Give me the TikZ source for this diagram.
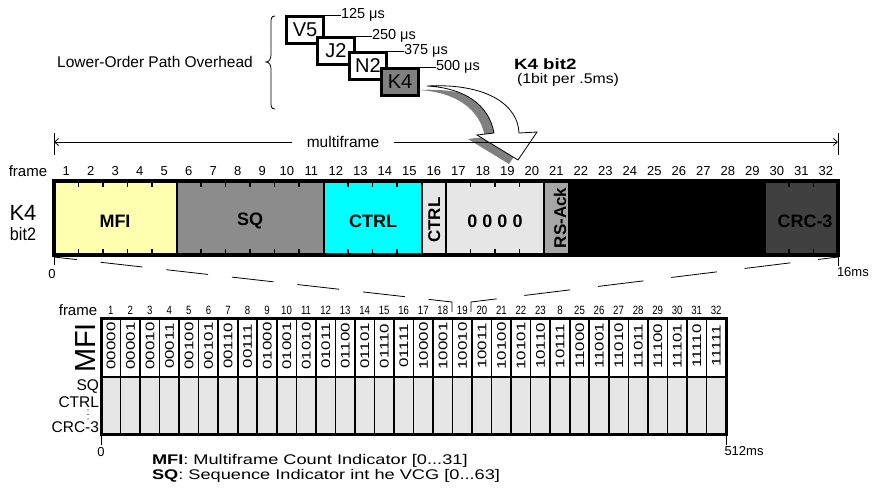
\documentclass[tikz,border=0pt]{standalone}
\usepackage{fontspec}
\setmainfont{Liberation Sans}
\usetikzlibrary{arrows.meta}
\definecolor{mfiyel}{HTML}{FFFFB0}
\definecolor{sqgray}{HTML}{8C8C8C}
\definecolor{ctrlcyan}{HTML}{00FFFF}
\definecolor{lgray}{HTML}{E6E6E6}
\definecolor{rsgray}{HTML}{A6A6A6}
\definecolor{crcgray}{HTML}{404040}
\definecolor{kgray}{HTML}{808080}
\newcommand{\fsz}[1]{\fontsize{#1}{#1}\selectfont}
\begin{document}
\begin{tikzpicture}[x=1pt,y=-1pt,
  txt/.style={inner sep=0pt, outer sep=0pt},
  seg/.style={rectangle, inner sep=0pt, outer sep=0pt, minimum height=74pt, anchor=north west},
  barlbl/.style={txt, font=\fsz{18}\bfseries},
  rotlbl/.style={txt, rotate=90, anchor=base, font=\fsz{17}\bfseries},
  ohbox/.style={draw, line width=3pt, fill=white, minimum width=37pt, minimum height=27pt, inner sep=0pt, anchor=north west, font=\fsz{20}},
  tick/.style={line width=1.2pt},
  hair/.style={line width=0.8pt},
  fnum/.style={txt, font=\fsz{13}},
  bnum/.style={txt, font=\fsz{12}},
  bits/.style={txt, rotate=90, anchor=base, font=\fsz{12.5}},
  us/.style={txt, anchor=west, font=\fsz{14.5}},
  dashA/.style={line width=0.8pt, dash pattern=on 42pt off 24pt, dash phase=19pt},
  dashB/.style={line width=0.8pt, dash pattern=on 46pt off 28pt, dash phase=26pt},
]
\useasboundingbox (0,0) rectangle (877,491);

% ---------- top: overhead bytes ----------
\node[txt, font=\fsz{15.5}] (loph) at (155,62) {Lower-Order Path Overhead};
\draw[hair] (275,16) .. controls (271,16) and (271,19) .. (271,23) -- (271,55)
  .. controls (271,59) and (269,62) .. (266,62)
  .. controls (269,62) and (271,65) .. (271,69) -- (271,102)
  .. controls (271,106) and (271,109) .. (275,109);

\node[ohbox] (v5) at (285,15) {V5};
\node[ohbox] (j2) at (316,36) {J2};
\node[ohbox] (n2) at (348,51) {N2};
\node[ohbox, fill=kgray] (k4) at (380,67) {K4};

\node[us] (t125) at (341,15) {125 μs};
\node[us] (t250) at (372,36) {250 μs};
\node[us] (t375) at (404,51) {375 μs};
\node[us] (t500) at (436,67) {500 μs};
\draw[hair] (v5.north east) -- (t125.west);
\draw[hair] (j2.north east) -- (t250.west);
\draw[hair] (n2.north east) -- (t375.west);
\draw[hair] (k4.north east) -- (t500.west);

\node[txt, anchor=west, font=\fsz{15}\bfseries] (k4b) at (514,64) {\scalebox{1.25}[1]{K4 bit2}};
\node[txt, anchor=west, font=\fsz{14}] (k4r) at (517,80) {\scalebox{1.13}[1]{(1bit per .5ms)}};

% ---------- curved arrow ----------
\fill[kgray, shift={(-9,4)}] (427,86) .. controls (487,83) and (518,105) .. (519,133)
  -- (537,132) -- (518,160) -- (477,135) -- (494,133)
  .. controls (489,105) and (465,88) .. (427,86) -- cycle;
\filldraw[fill=white, draw=black, line width=0.8pt, line join=miter] (427,86) .. controls (487,83) and (518,105) .. (519,133)
  -- (537,132) -- (518,160) -- (477,135) -- (494,133)
  .. controls (489,105) and (465,88) .. (427,86) -- cycle;

% ---------- multiframe dimension ----------
\node[txt, font=\fsz{15.5}, inner xsep=15pt] (mf) at (343,142) {multiframe};
\coordinate (mfl) at (54,142);
\coordinate (mfr) at (838,142);
\draw[hair] (54,133) -- (54,155);
\draw[hair] (838,133) -- (838,155);
\draw[hair, -{Straight Barb[length=4pt,width=7pt]}] (mf.west) -- (mfl);
\draw[hair, -{Straight Barb[length=4pt,width=7pt]}] (mf.east) -- (mfr);

% ---------- top frame numbers ----------
\node[txt, font=\fsz{15}] (frmA) at (28,171) {frame};
\foreach \i in {1,...,32} \node[fnum] (f\i) at ({54+(\i-0.5)*24.5},171) {\i};

% ---------- K4 bit2 multiframe bar ----------
\node[txt, font=\fsz{22}] (k4big) at (23,213) {K4};
\node[txt, font=\fsz{18}] (bit2) at (23,234) {\scalebox{0.9}[1]{bit2}};

\node[seg, fill=mfiyel, minimum width=122.5pt] (smfi) at (54,181) {};
\node[seg, fill=sqgray, minimum width=147pt] (ssq) at (176.5,181) {};
\node[seg, fill=ctrlcyan, minimum width=98pt] (sctrl) at (323.5,181) {};
\node[seg, fill=lgray, minimum width=24.5pt] (sctrlb) at (421.5,181) {};
\node[seg, fill=lgray, minimum width=98pt] (szero) at (446,181) {};
\node[seg, fill=rsgray, minimum width=24.5pt] (srs) at (544,181) {};
\node[seg, fill=black, minimum width=196pt] (sblk) at (568.5,181) {};
\node[seg, fill=crcgray, minimum width=73.5pt] (scrc) at (764.5,181) {};

\node[barlbl] (lmfi) at (115,221) {MFI};
\node[barlbl] (lsq) at (250,221) {SQ};
\node[barlbl] (lctrl) at (373,221) {CTRL};
\node[barlbl] (lzero) at (495,221) {0 0 0 0};
\node[barlbl] (lcrc) at (805,221) {CRC-3};
\node[rotlbl] (lctrlb) at (440,220) {CTRL};
\node[rotlbl] (lrs) at (566,218) {RS-Ack};

\foreach \i in {1,...,31} {
  \draw[tick] ({54+\i*24.5},182) -- ++(0,5);
  \draw[tick] ({54+\i*24.5},254) -- ++(0,-5);
}
\foreach \x in {176.5,323.5,421.5,446,544,568.5,764.5}
  \draw[line width=2pt] (\x,181) -- (\x,255);
\draw[line width=3.5pt] (54,181) rectangle (838,255);

\draw[hair] (54,255) -- (54,265);
\draw[hair] (838,255) -- (838,266);
\node[txt, font=\fsz{13}] (zeroA) at (52,274) {0};
\node[txt, anchor=west, font=\fsz{13}] (ms16) at (837,272) {16ms};

% ---------- zoom lines ----------
\coordinate (zl0) at (54,257);
\coordinate (zl1) at (452,302);
\coordinate (zl2) at (452,312);
\coordinate (zr0) at (838,257);
\coordinate (zr1) at (471,302);
\coordinate (zr2) at (471,312);
\draw[dashA] (zl0) -- (zl1) -- (zl2);
\draw[dashB] (zr0) -- (zr1) -- (zr2);

% ---------- bottom table ----------
\node[txt, font=\fsz{15}] (frmB) at (78,310) {frame};
\foreach \i in {1,...,32} {
  \ifnum\i=24 \def\lab{8}\else\def\lab{\i}\fi
  \node[bnum] (g\i) at ({101+(\i-0.5)*19.53125},310) {\scalebox{0.8}[1]{\lab}};
}

\fill[white] (101,318) rectangle (726,377);
\fill[lgray] (101,377) rectangle (726,434);
\foreach \i/\b in {1/00000,2/00001,3/00010,4/00011,5/00100,6/00101,7/00110,8/00111,
  9/01000,10/01001,11/01010,12/01011,13/01100,14/01101,15/01110,16/01111,
  17/10000,18/10001,19/10010,20/10011,21/10100,22/10101,23/10110,24/10111,
  25/11000,26/11001,27/11010,28/11011,29/11100,30/11101,31/11110,32/11111}
  \node[bits] (b\i) at ({101+(\i-0.5)*19.53125+4.5},346) {\scalebox{1.35}[1]{\b}};
\foreach \i in {1,...,31}
  \draw[line width=1.6pt] ({101+\i*19.53125},318) -- ({101+\i*19.53125},434);
\draw[line width=2pt] (101,377) -- (726,377);
\draw[line width=3pt] (101,318) rectangle (726,434);

\node[txt, rotate=90, anchor=base, font=\fsz{29}] (lmfiB) at (95,348) {MFI};
\node[txt, anchor=east, font=\fsz{15.5}] (lsqB) at (99,387) {SQ};
\node[txt, anchor=east, font=\fsz{15.5}] (lctrlB) at (99,402) {CTRL};
\node[txt, anchor=east, font=\fsz{15.5}] (lcrcB) at (99,427) {CRC-3};
\foreach \yy in {410,414.5,419} \fill (88,\yy) circle (0.6pt);

\draw[hair] (101,434) -- (101,445);
\draw[hair] (726,434) -- (726,445);
\node[txt, font=\fsz{13}] (zeroB) at (101,452) {0};
\node[txt, font=\fsz{13}] (ms512) at (744,451) {512ms};

% ---------- legend ----------
\node[txt, anchor=west, font=\fsz{14}] (leg1) at (152,461) {\scalebox{1.3}[1]{\textbf{MFI}: Multiframe Count Indicator [0...31]}};
\node[txt, anchor=west, font=\fsz{14}] (leg2) at (152,475.5) {\scalebox{1.3}[1]{\textbf{SQ}: Sequence Indicator int he VCG [0...63]}};
\end{tikzpicture}
\end{document}
